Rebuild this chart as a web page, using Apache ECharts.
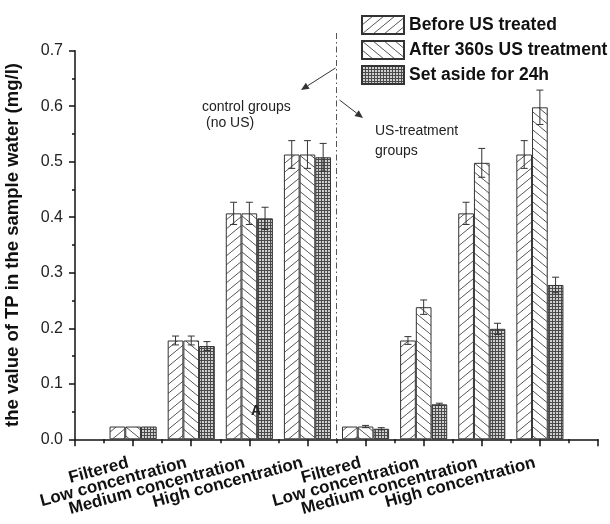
<!DOCTYPE html>
<html>
<head>
<meta charset="utf-8">
<script src="https://cdn.jsdelivr.net/npm/echarts@6/dist/echarts.min.js"></script>
<style>html,body{margin:0;padding:0;background:#fff}#c{width:610px;height:524px}</style>
</head>
<body>
<div id="c"></div>
<script>
// ---- data ----
const categories = ['Filtered','Low concentration','Medium concentration','High concentration',
                    'Filtered','Low concentration','Medium concentration','High concentration'];
const seriesNames = ['Before US treated','After 360s US treatment','Set aside for 24h'];
const beforeUS   = [0.023, 0.178, 0.407, 0.513, 0.023, 0.178, 0.407, 0.513];
const afterUS    = [0.023, 0.178, 0.407, 0.513, 0.023, 0.238, 0.498, 0.598];
const setAside   = [0.023, 0.168, 0.398, 0.508, 0.019, 0.063, 0.199, 0.278];
const errBefore  = [0, 0.008, 0.02, 0.025, 0, 0.007, 0.02, 0.025];
const errAfter   = [0, 0.008, 0.02, 0.025, 0.002, 0.013, 0.026, 0.031];
const errAside   = [0, 0.008, 0.02, 0.025, 0.002, 0.002, 0.01, 0.014];
const yTicks = [0, 0.7, 0.1];

// ---- styles ----
const BAR_W = 15.7;
function hatch(rising) {
  const w = 11, h = 9;
  const c = document.createElement('canvas'); c.width = w; c.height = h;
  const g = c.getContext('2d');
  g.fillStyle = '#fff'; g.fillRect(0, 0, w, h);
  g.strokeStyle = '#555'; g.lineWidth = 1;
  g.beginPath();
  for (let k = -1; k <= 1; k++) {
    if (rising) { g.moveTo(k * w, h); g.lineTo(w + k * w, 0); }
    else { g.moveTo(k * w, 0); g.lineTo(w + k * w, h); }
  }
  g.stroke();
  return { image: c, repeat: 'repeat' };
}
function dots() {
  const c = document.createElement('canvas'); c.width = 3; c.height = 3;
  const g = c.getContext('2d');
  g.fillStyle = '#4a4a4a'; g.fillRect(0, 0, 3, 3);
  g.fillStyle = '#d0d0d0'; g.fillRect(1, 1, 2, 2);
  return { image: c, repeat: 'repeat' };
}
const fills = [hatch(true), hatch(false), dots()];
const values = [beforeUS, afterUS, setAside];
const errs = [errBefore, errAfter, errAside];

const chart = echarts.init(document.getElementById('c'), null, { renderer: 'canvas' });

const barSeries = values.map((arr, i) => ({
  name: seriesNames[i],
  type: 'bar',
  barWidth: BAR_W,
  barGap: '0%',
  data: arr.map((v, j) => [j + 1, v]),
  itemStyle: { color: fills[i], borderColor: '#333', borderWidth: 1 },
  emphasis: { disabled: true },
  z: 2
}));

const errData = [];
values.forEach((arr, i) => arr.forEach((v, j) => errData.push([j + 1, v, errs[i][j], i])));

const errSeries = {
  type: 'custom',
  z: 5,
  silent: true,
  data: errData,
  encode: { x: 0, y: 1 },
  renderItem: function (params, api) {
    const x = api.value(0), y = api.value(1), e = api.value(2), k = api.value(3);
    if (!e) return null;
    const t = api.coord([x, y + e]), b = api.coord([x, y - e]);
    const cx = t[0] + (k - 1) * BAR_W;
    const cap = 3.5;
    const st = { stroke: '#333', lineWidth: 1 };
    return {
      type: 'group',
      children: [
        { type: 'line', shape: { x1: cx, y1: t[1], x2: cx, y2: b[1] }, style: st },
        { type: 'line', shape: { x1: cx - cap, y1: t[1], x2: cx + cap, y2: t[1] }, style: st },
        { type: 'line', shape: { x1: cx - cap, y1: b[1], x2: cx + cap, y2: b[1] }, style: st }
      ]
    };
  }
};

chart.setOption({
  animation: false,
  backgroundColor: '#fff',
  grid: { left: 75, right: 12, top: 50.7, bottom: 84.7, containLabel: false, outerBoundsMode: 'none' },
  legend: {
    orient: 'vertical', left: 356, top: 10,
    itemWidth: 42, itemHeight: 18, itemGap: 5,
    icon: 'rect',
    selectedMode: false,
    textStyle: { fontFamily: 'Liberation Sans', fontWeight: 'bold', fontSize: 17.5, color: '#111' },
    data: seriesNames
  },
  xAxis: {
    type: 'value', min: 0, max: 9, interval: 1,
    axisLine: { show: true, lineStyle: { color: '#111', width: 1.5 } },
    axisTick: { show: true, length: 7, lineStyle: { color: '#111', width: 1.5 } },
    minorTick: { show: true, splitNumber: 2, length: 4, lineStyle: { color: '#111', width: 1.5 } },
    splitLine: { show: false },
    minorSplitLine: { show: false },
    axisLabel: {
      rotate: 15, margin: 22, padding: [0, 5, 0, 0],
      fontFamily: 'Liberation Sans', fontWeight: 'bold', fontSize: 17, color: '#111',
      showMinLabel: true, showMaxLabel: true,
      formatter: v => categories[Math.round(v) - 1] || ''
    }
  },
  yAxis: {
    type: 'value', min: yTicks[0], max: yTicks[1], interval: yTicks[2],
    name: 'the value of TP in the sample water (mg/l)',
    nameLocation: 'middle', nameGap: 53,
    nameTextStyle: { fontFamily: 'Liberation Sans', fontWeight: 'bold', fontSize: 18.5, color: '#111' },
    axisLine: { show: true, lineStyle: { color: '#111', width: 1.5 } },
    axisTick: { show: true, length: 6, lineStyle: { color: '#111', width: 1.5 } },
    minorTick: { show: true, splitNumber: 2, length: 3, lineStyle: { color: '#111', width: 1.5 } },
    splitLine: { show: false },
    minorSplitLine: { show: false },
    axisLabel: {
      margin: 12, fontFamily: 'Liberation Sans', fontSize: 16, color: '#222',
      formatter: v => v.toFixed(1)
    }
  },
  series: [...barSeries, errSeries]
});

// ---- annotations ----
const divX = chart.convertToPixel({ xAxisIndex: 0 }, 4.5);
const base = chart.convertToPixel({ yAxisIndex: 0 }, 0);
function arrow(x1, y1, x2, y2) {
  const a = Math.atan2(y2 - y1, x2 - x1), L = 8, W = 3.5;
  const bx = x2 - L * Math.cos(a), by = y2 - L * Math.sin(a);
  const px = -Math.sin(a) * W, py = Math.cos(a) * W;
  return [
    { type: 'line', shape: { x1, y1, x2: bx, y2: by }, style: { stroke: '#333', lineWidth: 1 }, z: 20 },
    { type: 'polygon', shape: { points: [[x2, y2], [bx + px, by + py], [bx - px, by - py]] }, style: { fill: '#333' }, z: 20 }
  ];
}
const txt = (x, y, s, size, bold) => ({
  type: 'text', x, y, z: 20,
  style: { text: s, fontFamily: 'Liberation Sans', fontSize: size || 14, fontWeight: bold ? 'bold' : 'normal',
           fill: '#222', verticalAlign: 'middle' }
});
chart.setOption({
  graphic: [
    { type: 'line', z: 1, shape: { x1: divX, y1: 33, x2: divX, y2: base }, style: { stroke: '#555', lineWidth: 1, lineDash: [6, 3, 1.5, 3] } },
    ...arrow(divX - 1, 68, 301, 90),
    ...arrow(divX + 3, 100, 363, 118),
    txt(202, 107, 'control groups'),
    txt(206, 123, '(no US)'),
    txt(375, 131, 'US-treatment'),
    txt(375, 151, 'groups'),
    txt(251, 411, 'A', 14, true)
  ]
});
</script>
</body>
</html>
